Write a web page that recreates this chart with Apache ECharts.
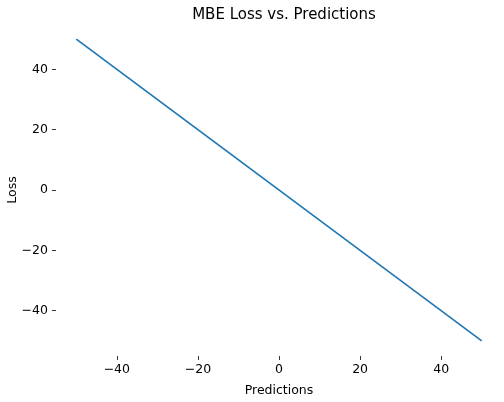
<!DOCTYPE html>
<html lang="en">
<head>
    <meta charset="UTF-8">
    <title>MBE Loss vs. Predictions</title>
    <script src="https://cdn.jsdelivr.net/npm/echarts@6/dist/echarts.min.js"></script>
    <style>
        html, body { margin: 0; padding: 0; background: #fff; }
        #main { width: 504px; height: 402px; }
    </style>
</head>
<body>
<div id="main"></div>
<script>
    // line endpoints
    var predictions = [-50, 50];
    var loss = [50, -50];
    var xTicks = [-40, -20, 0, 20, 40];
    var yTicks = [-40, -20, 0, 20, 40];

    var font = 'DejaVu Sans';

    function fmt(v) {
        return String(v).replace('-', '\u2212');
    }

    var points = predictions.map(function (p, i) { return [p, loss[i]]; });

    var myChart = echarts.init(document.getElementById('main'));
    var option = {
        animation: false,
        backgroundColor: '#ffffff',
        title: {
            text: 'MBE Loss vs. Predictions',
            left: 279,
            textAlign: 'center',
            top: 3,
            textStyle: { fontFamily: font, fontSize: 15, fontWeight: 'normal', color: '#000' }
        },
        grid: { left: 56, right: 2, top: 24, bottom: 46, containLabel: false, outerBoundsMode: 'none' },
        xAxis: {
            type: 'value',
            min: -55,
            max: 55,
            name: 'Predictions',
            nameLocation: 'middle',
            nameGap: 28,
            nameMoveOverlap: false,
            nameTextStyle: { fontFamily: font, fontSize: 12.5, color: '#000' },
            axisLine: { show: false, onZero: false },
            splitLine: { show: false },
            axisTick: { show: true, length: 4, customValues: xTicks, lineStyle: { color: '#000', width: 0.8 } },
            axisLabel: { customValues: xTicks, formatter: fmt, margin: 7, fontFamily: font, fontSize: 12.5, color: '#000' }
        },
        yAxis: {
            type: 'value',
            min: -55,
            max: 55,
            name: 'Loss',
            nameLocation: 'middle',
            nameGap: 37,
            nameMoveOverlap: false,
            nameTextStyle: { fontFamily: font, fontSize: 12.5, color: '#000' },
            axisLine: { show: false, onZero: false },
            splitLine: { show: false },
            axisTick: { show: true, length: 4, customValues: yTicks, lineStyle: { color: '#000', width: 0.8 } },
            axisLabel: { customValues: yTicks, formatter: fmt, margin: 8, fontFamily: font, fontSize: 12.5, color: '#000' }
        },
        series: [
            {
                type: 'line',
                data: points,
                symbol: 'none',
                lineStyle: { color: '#1f77b4', width: 1.7 }
            }
        ]
    };
    myChart.setOption(option);
</script>
</body>
</html>
